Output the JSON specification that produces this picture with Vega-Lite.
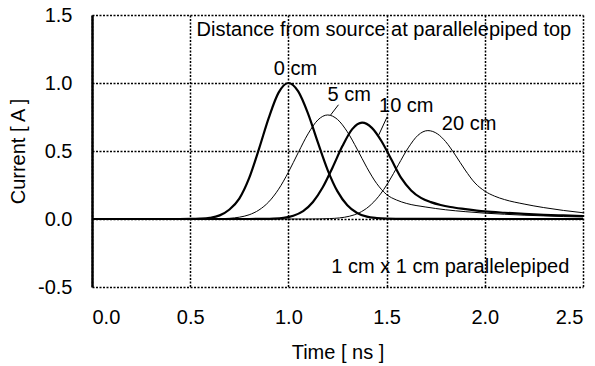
{
  "$schema": "https://vega.github.io/schema/vega-lite/v6.json",
  "width": 491,
  "height": 272,
  "autosize": {"type": "none"},
  "padding": {"left": 92, "top": 15, "right": 12, "bottom": 79},
  "background": "white",
  "config": {
    "view": {"stroke": null},
    "font": "Liberation Sans",
    "text": {"font": "Liberation Sans"}
  },
  "datasets": {
    "curves": [
      {"series": "0 cm", "t": 0, "I": 0},
      {"series": "0 cm", "t": 0.4, "I": 0},
      {"series": "0 cm", "t": 0.5, "I": 0.0006},
      {"series": "0 cm", "t": 0.55, "I": 0.0025},
      {"series": "0 cm", "t": 0.6, "I": 0.0088},
      {"series": "0 cm", "t": 0.65, "I": 0.0267},
      {"series": "0 cm", "t": 0.7, "I": 0.07},
      {"series": "0 cm", "t": 0.75, "I": 0.15},
      {"series": "0 cm", "t": 0.8, "I": 0.3},
      {"series": "0 cm", "t": 0.85, "I": 0.514},
      {"series": "0 cm", "t": 0.9, "I": 0.744},
      {"series": "0 cm", "t": 0.95, "I": 0.929},
      {"series": "0 cm", "t": 1.0, "I": 1.0},
      {"series": "0 cm", "t": 1.05, "I": 0.938},
      {"series": "0 cm", "t": 1.1, "I": 0.775},
      {"series": "0 cm", "t": 1.15, "I": 0.563},
      {"series": "0 cm", "t": 1.2, "I": 0.36},
      {"series": "0 cm", "t": 1.25, "I": 0.203},
      {"series": "0 cm", "t": 1.3, "I": 0.101},
      {"series": "0 cm", "t": 1.35, "I": 0.044},
      {"series": "0 cm", "t": 1.4, "I": 0.017},
      {"series": "0 cm", "t": 1.45, "I": 0.007},
      {"series": "0 cm", "t": 1.5, "I": 0.003},
      {"series": "0 cm", "t": 1.6, "I": 0.001},
      {"series": "0 cm", "t": 2.0, "I": 0},
      {"series": "0 cm", "t": 2.5, "I": 0},

      {"series": "5 cm", "t": 0, "I": 0},
      {"series": "5 cm", "t": 0.5, "I": 0},
      {"series": "5 cm", "t": 0.6, "I": 0.0004},
      {"series": "5 cm", "t": 0.65, "I": 0.0018},
      {"series": "5 cm", "t": 0.7, "I": 0.005},
      {"series": "5 cm", "t": 0.75, "I": 0.0133},
      {"series": "5 cm", "t": 0.8, "I": 0.031},
      {"series": "5 cm", "t": 0.85, "I": 0.066},
      {"series": "5 cm", "t": 0.9, "I": 0.126},
      {"series": "5 cm", "t": 0.95, "I": 0.219},
      {"series": "5 cm", "t": 1.0, "I": 0.344},
      {"series": "5 cm", "t": 1.05, "I": 0.488},
      {"series": "5 cm", "t": 1.1, "I": 0.626},
      {"series": "5 cm", "t": 1.15, "I": 0.728},
      {"series": "5 cm", "t": 1.2, "I": 0.765},
      {"series": "5 cm", "t": 1.25, "I": 0.732},
      {"series": "5 cm", "t": 1.3, "I": 0.641},
      {"series": "5 cm", "t": 1.35, "I": 0.514},
      {"series": "5 cm", "t": 1.4, "I": 0.377},
      {"series": "5 cm", "t": 1.45, "I": 0.26},
      {"series": "5 cm", "t": 1.5, "I": 0.18},
      {"series": "5 cm", "t": 1.55, "I": 0.14},
      {"series": "5 cm", "t": 1.6, "I": 0.115},
      {"series": "5 cm", "t": 1.7, "I": 0.088},
      {"series": "5 cm", "t": 1.8, "I": 0.068},
      {"series": "5 cm", "t": 1.9, "I": 0.054},
      {"series": "5 cm", "t": 2.0, "I": 0.043},
      {"series": "5 cm", "t": 2.1, "I": 0.035},
      {"series": "5 cm", "t": 2.2, "I": 0.028},
      {"series": "5 cm", "t": 2.3, "I": 0.023},
      {"series": "5 cm", "t": 2.4, "I": 0.018},
      {"series": "5 cm", "t": 2.5, "I": 0.015},

      {"series": "10 cm", "t": 0, "I": 0},
      {"series": "10 cm", "t": 0.8, "I": 0},
      {"series": "10 cm", "t": 0.875, "I": 0.0007},
      {"series": "10 cm", "t": 0.925, "I": 0.0025},
      {"series": "10 cm", "t": 0.975, "I": 0.0084},
      {"series": "10 cm", "t": 1.025, "I": 0.024},
      {"series": "10 cm", "t": 1.075, "I": 0.058},
      {"series": "10 cm", "t": 1.125, "I": 0.125},
      {"series": "10 cm", "t": 1.175, "I": 0.233},
      {"series": "10 cm", "t": 1.225, "I": 0.379},
      {"series": "10 cm", "t": 1.275, "I": 0.536},
      {"series": "10 cm", "t": 1.325, "I": 0.661},
      {"series": "10 cm", "t": 1.375, "I": 0.708},
      {"series": "10 cm", "t": 1.425, "I": 0.67},
      {"series": "10 cm", "t": 1.475, "I": 0.57},
      {"series": "10 cm", "t": 1.525, "I": 0.435},
      {"series": "10 cm", "t": 1.575, "I": 0.3},
      {"series": "10 cm", "t": 1.625, "I": 0.21},
      {"series": "10 cm", "t": 1.675, "I": 0.155},
      {"series": "10 cm", "t": 1.725, "I": 0.124},
      {"series": "10 cm", "t": 1.775, "I": 0.103},
      {"series": "10 cm", "t": 1.825, "I": 0.088},
      {"series": "10 cm", "t": 1.9, "I": 0.073},
      {"series": "10 cm", "t": 2.0, "I": 0.056},
      {"series": "10 cm", "t": 2.1, "I": 0.046},
      {"series": "10 cm", "t": 2.2, "I": 0.038},
      {"series": "10 cm", "t": 2.3, "I": 0.031},
      {"series": "10 cm", "t": 2.4, "I": 0.026},
      {"series": "10 cm", "t": 2.5, "I": 0.022},

      {"series": "20 cm", "t": 0, "I": 0},
      {"series": "20 cm", "t": 1.1, "I": 0},
      {"series": "20 cm", "t": 1.16, "I": 0.001},
      {"series": "20 cm", "t": 1.21, "I": 0.003},
      {"series": "20 cm", "t": 1.26, "I": 0.008},
      {"series": "20 cm", "t": 1.31, "I": 0.02},
      {"series": "20 cm", "t": 1.36, "I": 0.045},
      {"series": "20 cm", "t": 1.41, "I": 0.092},
      {"series": "20 cm", "t": 1.46, "I": 0.167},
      {"series": "20 cm", "t": 1.51, "I": 0.272},
      {"series": "20 cm", "t": 1.56, "I": 0.399},
      {"series": "20 cm", "t": 1.61, "I": 0.523},
      {"series": "20 cm", "t": 1.66, "I": 0.616},
      {"series": "20 cm", "t": 1.71, "I": 0.65},
      {"series": "20 cm", "t": 1.76, "I": 0.625},
      {"series": "20 cm", "t": 1.8, "I": 0.57},
      {"series": "20 cm", "t": 1.85, "I": 0.47},
      {"series": "20 cm", "t": 1.9, "I": 0.36},
      {"series": "20 cm", "t": 1.95, "I": 0.265},
      {"series": "20 cm", "t": 2.0, "I": 0.205},
      {"series": "20 cm", "t": 2.05, "I": 0.168},
      {"series": "20 cm", "t": 2.1, "I": 0.143},
      {"series": "20 cm", "t": 2.2, "I": 0.11},
      {"series": "20 cm", "t": 2.3, "I": 0.084},
      {"series": "20 cm", "t": 2.4, "I": 0.063},
      {"series": "20 cm", "t": 2.5, "I": 0.046}
    ],
    "labels": [
      {"label": "0 cm", "t": 1.036, "I": 1.1},
      {"label": "5 cm", "t": 1.31, "I": 0.91},
      {"label": "10 cm", "t": 1.6, "I": 0.83},
      {"label": "20 cm", "t": 1.92, "I": 0.7}
    ],
    "leaders": [
      {"t": 1.255, "I": 0.84, "t2": 1.215, "I2": 0.765},
      {"t": 1.503, "I": 0.752, "t2": 1.46, "I2": 0.618}
    ],
    "notes": [
      {"note": "Distance from source at parallelepiped top", "t": 2.44, "I": 1.39},
      {"note": "1 cm x 1 cm parallelepiped", "t": 2.43, "I": -0.35}
    ]
  },
  "layer": [
    {
      "data": {"name": "curves"},
      "mark": {"type": "line", "interpolate": "monotone", "clip": true},
      "encoding": {
        "x": {
          "field": "t", "type": "quantitative",
          "scale": {"domain": [0, 2.5], "nice": false, "zero": false},
          "axis": {
            "title": "Time [ ns ]",
            "values": [0, 0.5, 1, 1.5, 2, 2.5],
            "format": ".1f",
            "grid": true, "gridColor": "black", "gridDash": [2, 1.5], "gridWidth": 1.5, "gridOpacity": 1,
            "domain": false, "ticks": false, "tickSize": 0,
            "labelPadding": 20, "labelFontSize": 20, "labelColor": "black", "labelFont": "Liberation Sans",
            "titleFontSize": 20, "titleFont": "Liberation Sans", "titleFontWeight": "normal", "titleColor": "black",
            "titleY": 65, "titleBaseline": "middle"
          }
        },
        "y": {
          "field": "I", "type": "quantitative",
          "scale": {"domain": [-0.5, 1.5], "nice": false, "zero": false},
          "axis": {
            "title": "Current [ A ]",
            "values": [-0.5, 0, 0.5, 1, 1.5],
            "format": ".1f",
            "labelExpr": "replace(datum.label, '\u2212', '-')",
            "grid": true, "gridColor": "black", "gridDash": [2, 1.5], "gridWidth": 1.5, "gridOpacity": 1,
            "domain": true, "domainColor": "black", "domainWidth": 2.5,
            "ticks": false, "tickSize": 0,
            "labelPadding": 20, "labelFontSize": 20, "labelColor": "black", "labelFont": "Liberation Sans",
            "titleFontSize": 20, "titleFont": "Liberation Sans", "titleFontWeight": "normal", "titleColor": "black",
            "titleX": -74, "titleBaseline": "middle",
            "zindex": 1
          }
        },
        "detail": {"field": "series"},
        "strokeWidth": {
          "field": "series", "type": "ordinal",
          "scale": {"type": "ordinal", "domain": ["0 cm", "5 cm", "10 cm", "20 cm"], "range": [2.2, 1, 2.2, 1]},
          "legend": null
        },
        "color": {"value": "black"}
      }
    },
    {
      "data": {"name": "leaders"},
      "mark": {"type": "rule", "color": "black", "strokeWidth": 1},
      "encoding": {
        "x": {"field": "t", "type": "quantitative"},
        "y": {"field": "I", "type": "quantitative"},
        "x2": {"field": "t2"},
        "y2": {"field": "I2"}
      }
    },
    {
      "data": {"name": "labels"},
      "mark": {"type": "text", "fontSize": 20, "align": "center", "baseline": "middle", "color": "black", "font": "Liberation Sans"},
      "encoding": {
        "x": {"field": "t", "type": "quantitative"},
        "y": {"field": "I", "type": "quantitative"},
        "text": {"field": "label"}
      }
    },
    {
      "data": {"name": "notes"},
      "mark": {"type": "text", "fontSize": 20, "align": "right", "baseline": "middle", "color": "black", "font": "Liberation Sans"},
      "encoding": {
        "x": {"field": "t", "type": "quantitative"},
        "y": {"field": "I", "type": "quantitative"},
        "text": {"field": "note"}
      }
    }
  ]
}
